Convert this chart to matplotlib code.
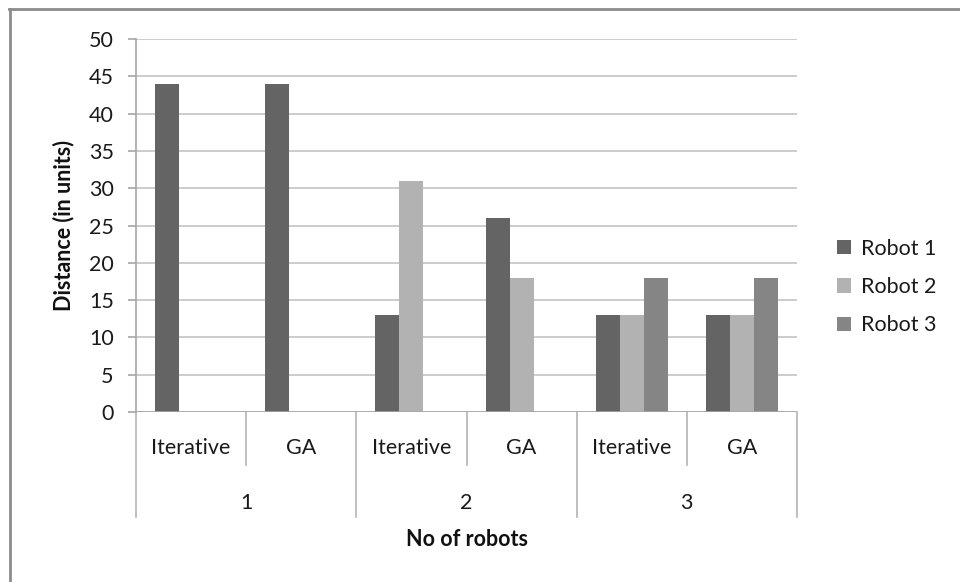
import matplotlib.pyplot as plt
import matplotlib.transforms as mtransforms
import numpy as np

plt.rcParams['font.family'] = ['Lato', 'DejaVu Sans']

methods = ['Iterative', 'GA', 'Iterative', 'GA', 'Iterative', 'GA']
robot_counts = ['1', '2', '3']
series = ['Robot 1', 'Robot 2', 'Robot 3']
robot1 = [44, 44, 13, 26, 13, 13]
robot2 = [0, 0, 31, 18, 13, 13]
robot3 = [0, 0, 0, 0, 18, 18]
colors = ['#646464', '#b2b2b2', '#858585']

FS = 15.5
TXT = '#1a1a1a'

fig = plt.figure(figsize=(9.6, 5.82), dpi=100)
ax = fig.add_axes([136 / 960, 1 - 412 / 582, 661 / 960, 373 / 582])

x = np.arange(len(methods))
w = 0.218
for k, (vals, name, c) in enumerate(zip([robot1, robot2, robot3], series, colors)):
    ax.bar(x + (k - 1) * w, vals, width=w, color=c, label=name, zorder=3)

ax.set_xlim(-0.5, 5.5)
ax.set_ylim(0, 50)
ax.set_yticks(range(0, 51, 5))
ax.yaxis.grid(True, color='#c8c8c8', linewidth=1.3, zorder=0)
for s in ['top', 'right', 'bottom']:
    ax.spines[s].set_visible(False)
ax.spines['left'].set_color('#a6a6a6')
ax.spines['left'].set_linewidth(1.2)
ax.tick_params(axis='y', length=6, width=1.2, color='#a6a6a6', labelsize=FS,
               labelcolor=TXT, pad=10)
ax.set_xticks([])

# zero line drawn over the bars' base
ax.axhline(0, color='#a6a6a6', linewidth=1.2, zorder=4)

# two-level category axis below the plot
trans = mtransforms.blended_transform_factory(ax.transData, ax.transAxes)
for b in np.arange(-0.5, 6.0, 1.0):
    long_line = int(b + 0.5) % 2 == 0
    y_end = -0.2815 if long_line else -0.142
    ax.plot([b, b], [0, y_end], color='#b4b4b4', linewidth=1.2,
            transform=trans, clip_on=False)
for i, m in enumerate(methods):
    ax.text(i, -0.0965, m, transform=trans, ha='center', va='center',
            fontsize=FS, color=TXT)
for j, n in enumerate(robot_counts):
    ax.text(2 * j + 0.5, -0.244, n, transform=trans, ha='center', va='center',
            fontsize=FS, color=TXT)

ax.text(0.5, -0.343, 'No of robots', transform=ax.transAxes, ha='center',
        va='center', fontsize=FS, fontweight='bold', color='#111111')
ax.text(-0.11, 0.5, 'Distance (in units)', transform=ax.transAxes,
        ha='center', va='center', rotation=90, fontsize=FS,
        fontweight='bold', color='#111111')

leg = fig.legend(loc='center left', bbox_to_anchor=(818 / 960, 1 - 287 / 582),
                 frameon=False, fontsize=FS, handlelength=0.65, handleheight=0.65,
                 handletextpad=0.45, labelspacing=0.85)
for t in leg.get_texts():
    t.set_color(TXT)

# outer chart border (top and left edges visible)
fig.add_artist(plt.Line2D([9 / 960, 1], [1 - 9 / 582, 1 - 9 / 582],
                          transform=fig.transFigure, color='#8c8c8c', linewidth=2))
fig.add_artist(plt.Line2D([10 / 960, 10 / 960], [0, 1 - 9 / 582],
                          transform=fig.transFigure, color='#8c8c8c', linewidth=2))

fig.savefig('out.png', dpi=100)
